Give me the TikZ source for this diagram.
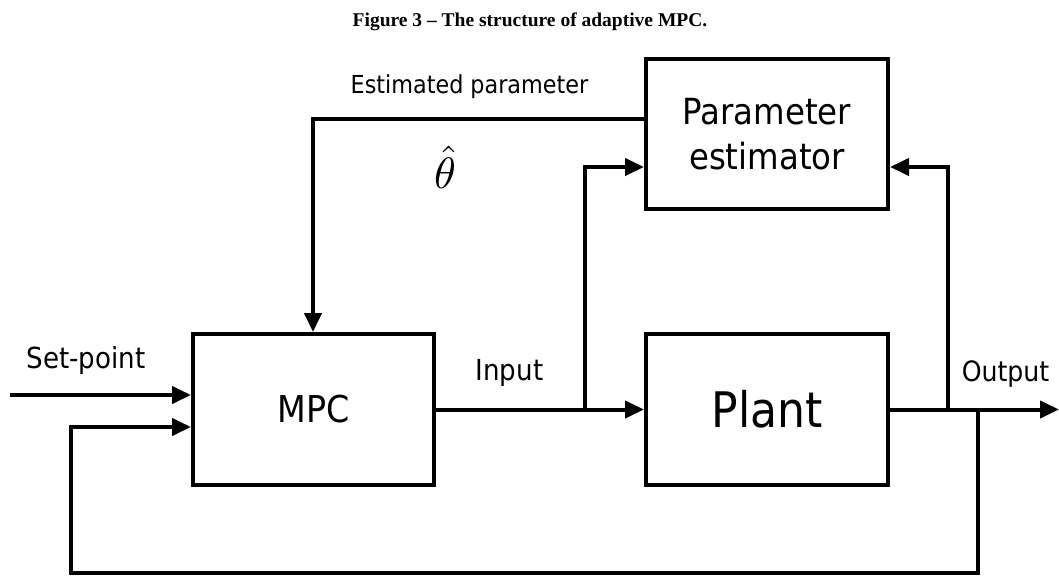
\documentclass[tikz,border=0pt]{standalone}
\usepackage{fontspec}
\setmainfont{DejaVu Sans Condensed}
\newfontfamily\titlefont{Liberation Serif}
\usetikzlibrary{arrows.meta,calc}
\tikzset{
  wire/.style={line width=4pt},
  arr/.style={wire,-{Triangle[length=19pt,width=17pt]}},
  block/.style={draw,line width=4pt,inner sep=0pt,align=center},
  lbl/.style={inner sep=0pt,anchor=base}
}
\newcommand{\fs}[1]{\fontsize{#1}{1.2\dimexpr#1pt\relax}\selectfont}
\begin{document}
\begin{tikzpicture}[x=1pt,y=-1pt]
\useasboundingbox (0,0) rectangle (1059,576);

% caption
\node[lbl] (title) at (530,26) {\titlefont\bfseries\fontsize{19.5}{22}\selectfont Figure 3 – The structure of adaptive MPC.};

% blocks
\node[block,minimum width=241pt,minimum height=151pt,font=\fs{37}] (mpc) at (313.5,409.5) {MPC};
\node[block,minimum width=242pt,minimum height=151pt,font=\fs{49}] (plant) at (767,409.5) {Plant};
\node[block,minimum width=242pt,minimum height=150pt,font={\fontsize{36}{45}\selectfont}] (par) at (767,134)
  {Parameter\\ estimator};

% junctions and free ends
\coordinate (sp) at (10,395);
\coordinate (out) at (1059,409.5);
\coordinate (bin) at (585,409.5);
\coordinate (bout) at (948,409.5);
\coordinate (bfb) at (978,409.5);
\coordinate (est) at (313,119);
\coordinate (low) at (71,573);

% signal paths
\draw[arr] (sp) -- (sp -| mpc.west);
\draw[arr] (mpc.east) -- (plant.west);
\draw[arr] (plant.east) -- (out);
\draw[arr] (bin) |- ([yshift=-33pt]par.west);
\draw[arr] (bout) |- ([yshift=-33pt]par.east);
\draw[arr] ([yshift=15pt]par.west) -- (est) -- (est |- mpc.north);
\draw[arr] (bfb) |- (low) |- ([yshift=-17.5pt]mpc.west);

% labels
\node[lbl] (lsp) at (86,368) {\fs{29}Set-point};
\node[lbl] (lin) at (509.5,380) {\fs{29}Input};
\node[lbl] (lout) at (1005.5,381) {\fs{28}Output};
\node[lbl] (lest) at (469.5,93) {\fs{24.8}Estimated parameter};
\node[inner sep=0pt] (theta) at (445,167) {\scalebox{4.4}{$\hat{\theta}$}};
\end{tikzpicture}
\end{document}
